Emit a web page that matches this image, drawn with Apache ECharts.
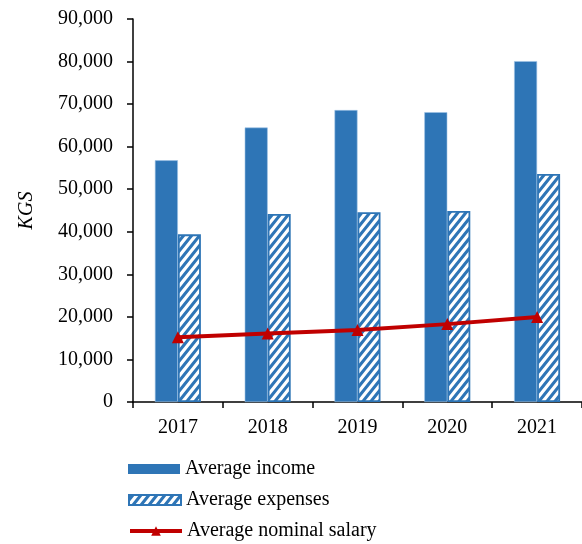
<!DOCTYPE html>
<html><head><meta charset="utf-8">
<script src="https://cdn.jsdelivr.net/npm/echarts@6/dist/echarts.min.js"></script>
<style>html,body{margin:0;padding:0;background:#fff}#c{width:582px;height:544px}</style>
</head><body><div id="c"></div>
<script>
const categories = ['2017','2018','2019','2020','2021'];
const income = [56800, 64500, 68600, 68100, 80100];
const expenses = [39400, 44200, 44600, 44900, 53600];
const salary = [15200, 16100, 16900, 18300, 20000];
const yTicks = {min: 0, max: 90000, interval: 10000};

const BLUE = '#2E75B6';
const RED = '#C00000';
const FONT = "'Liberation Serif','Times New Roman',serif";

function hatch() {
  const w = 8, h = 10, c = document.createElement('canvas');
  c.width = w; c.height = h;
  const g = c.getContext('2d');
  g.fillStyle = BLUE; g.fillRect(0,0,w,h);
  g.strokeStyle = '#fff'; g.lineWidth = 3.2;
  g.beginPath();
  for (let k = -1; k <= 1; k++) {
    g.moveTo(k*w - 1, h + 1.25); g.lineTo(k*w + w + 1, -1.25);
  }
  g.stroke();
  return c;
}
const pattern = {image: hatch(), repeat: 'repeat'};

const legText = {fontFamily: FONT, fontSize: 20, color: '#000'};
function leg(name, top, extra) {
  return Object.assign({
    orient: 'vertical', left: 128, top: top, itemWidth: 52, itemHeight: 10,
    textStyle: legText, data: [name], selectedMode: false, padding: 0
  }, extra || {});
}

const chart = echarts.init(document.getElementById('c'), null, {renderer: 'canvas'});
chart.setOption({
  animation: false,
  textStyle: {fontFamily: FONT},
  grid: {left: 133, top: 19, bottom: 142, right: 0, containLabel: false},
  legend: [
    leg('Average income', 459, {icon: 'rect', itemStyle: {borderWidth: 0}}),
    leg('Average expenses', 490, {icon: 'rect'}),
    leg('Average nominal salary', 521, {itemHeight: 12,
      lineStyle: {width: 4, color: RED}, itemStyle: {color: RED}})
  ],
  xAxis: {
    type: 'category', data: categories,
    axisLine: {lineStyle: {color: '#000', width: 1.5}},
    axisTick: {show: true, length: 6, lineStyle: {color: '#000', width: 1.5}},
    axisLabel: {color: '#000', fontSize: 20, fontFamily: FONT, margin: 16}
  },
  yAxis: {
    type: 'value', min: yTicks.min, max: yTicks.max, interval: yTicks.interval,
    name: 'KGS', nameLocation: 'middle', nameGap: 96,
    nameTextStyle: {fontFamily: FONT, fontSize: 20, fontStyle: 'italic', color: '#000'},
    axisLine: {show: true, lineStyle: {color: '#000', width: 1.5}},
    axisTick: {show: true, length: 6, lineStyle: {color: '#000', width: 1.5}},
    splitLine: {show: false},
    axisLabel: {color: '#000', fontSize: 20, fontFamily: FONT, margin: 20,
      formatter: v => v.toLocaleString('en-US')}
  },
  series: [
    {name: 'Average income', type: 'bar', data: income, barWidth: 23, barGap: '0%',
      itemStyle: {color: BLUE, borderColor: '#9DC3E6', borderWidth: 0.6}},
    {name: 'Average expenses', type: 'bar', data: expenses, barWidth: 23,
      itemStyle: {color: pattern, borderColor: BLUE, borderWidth: 1.8}},
    {name: 'Average nominal salary', type: 'line', data: salary, z: 5,
      symbol: 'triangle', symbolSize: 12, showSymbol: true,
      lineStyle: {color: RED, width: 4},
      itemStyle: {color: RED}}
  ]
});
</script></body></html>
